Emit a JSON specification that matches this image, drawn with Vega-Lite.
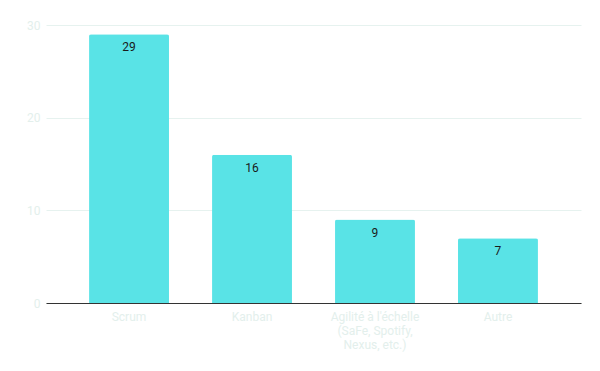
{
  "$schema": "https://vega.github.io/schema/vega-lite/v6.json",
  "autosize": "none",
  "width": 535,
  "height": 278,
  "padding": {"left": 46, "top": 25, "right": 19, "bottom": 68},
  "background": "white",
  "config": {"view": {"stroke": null}, "font": "Roboto"},
  "data": {"values": [
    {"methode": "Scrum", "n": 29},
    {"methode": "Kanban", "n": 16},
    {"methode": "Agilité à l'échelle (SaFe, Spotify, Nexus, etc.)", "n": 9},
    {"methode": "Autre", "n": 7}
  ]},
  "encoding": {
    "x": {"field": "methode", "type": "nominal", "sort": null,
      "scale": {"paddingInner": 0.35, "paddingOuter": 0.35},
      "axis": {"title": null, "labelAngle": 0, "ticks": false, "domainColor": "#333333", "domainWidth": 1.2,
        "labelColor": "#e3efec", "labelFontSize": 12, "labelPadding": 8, "labelLineHeight": 14,
        "labelExpr": "length(datum.label) > 20 ? [substring(datum.label,0,19), substring(datum.label,20,35), substring(datum.label,36)] : datum.label"}},
    "y": {"field": "n", "type": "quantitative", "scale": {"domain": [0, 30]},
      "axis": {"title": null, "values": [0, 10, 20, 30], "ticks": false, "domain": false,
        "gridColor": "#e6f2ef", "labelColor": "#e3efec", "labelFontSize": 12, "labelPadding": 6}}
  },
  "layer": [
    {"mark": {"type": "bar", "color": "#59e3e6", "cornerRadiusTopLeft": 2, "cornerRadiusTopRight": 2}},
    {"mark": {"type": "text", "baseline": "top", "dy": 8, "fontSize": 12, "color": "#1a1a1a"},
      "encoding": {"text": {"field": "n", "type": "quantitative"}}}
  ]
}
